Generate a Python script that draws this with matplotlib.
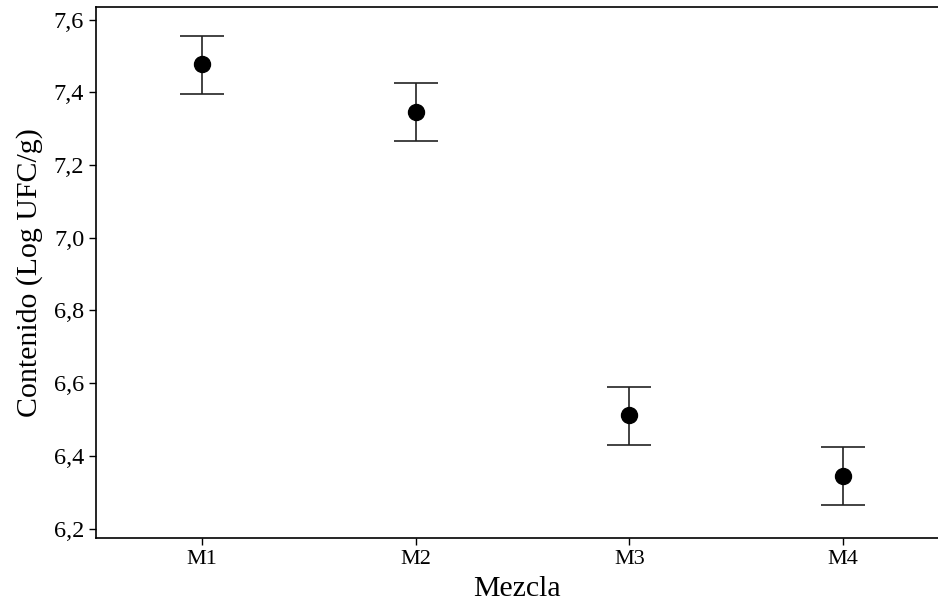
import matplotlib
matplotlib.use("Agg")
import matplotlib.pyplot as plt
from matplotlib.ticker import FuncFormatter

mezclas = ['M1', 'M2', 'M3', 'M4']
medias = [7.478, 7.346, 6.512, 6.345]
sup = [7.556, 7.426, 6.590, 6.425]
inf = [7.396, 7.265, 6.430, 6.264]

plt.rcParams['font.family'] = ['Liberation Serif', 'DejaVu Serif']

fig = plt.figure(figsize=(9.38, 6.07), dpi=100)
ax = fig.add_axes([96/938, 1 - 538/607, 1 - 96/938, (538 - 7)/607])

x = list(range(1, len(mezclas) + 1))
err_lo = [m - l for m, l in zip(medias, inf)]
err_hi = [h - m for m, h in zip(medias, sup)]
ax.errorbar(x, medias, yerr=[err_lo, err_hi], fmt='o', color='black',
            ecolor='#222222', elinewidth=1.2, capsize=16, capthick=1.2,
            markersize=11.5)

ax.set_xlim(0.506, 4.443)
ax.set_ylim(6.174, 7.635)
ax.set_xticks(x)
ax.set_xticklabels(mezclas)
ax.set_yticks([6.2, 6.4, 6.6, 6.8, 7.0, 7.2, 7.4, 7.6])
ax.yaxis.set_major_formatter(FuncFormatter(lambda v, p: f'{v:.1f}'.replace('.', ',')))
ax.tick_params(axis='y', labelsize=17.5, length=5, width=1, direction='out')
ax.tick_params(axis='x', labelsize=16, length=5, width=1, direction='out')
ax.spines['right'].set_visible(False)
for s in ['left', 'top', 'bottom']:
    ax.spines[s].set_linewidth(1.2)

ax.set_xlabel('Mezcla', fontsize=21.5, labelpad=5)
ax.set_ylabel('Contenido (Log UFC/g)', fontsize=21.5, labelpad=8)

fig.savefig('out.png', dpi=100)
